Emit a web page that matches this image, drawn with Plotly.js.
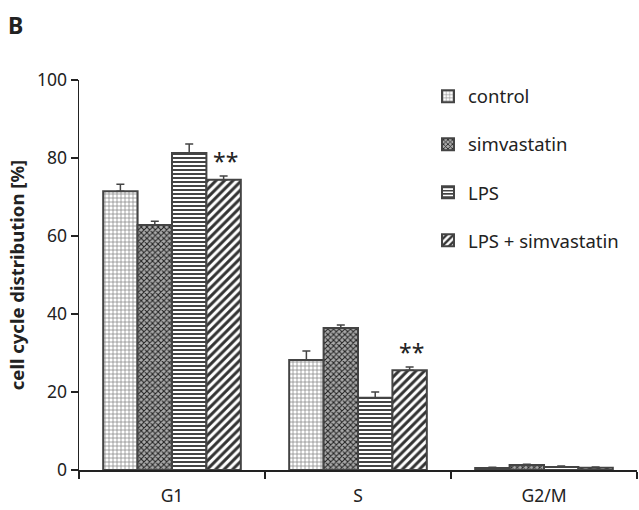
<!DOCTYPE html>
<html>
<head>
<meta charset="utf-8">
<script src="https://cdn.plot.ly/plotly-3.0.1.min.js"></script>
<style>html,body{margin:0;padding:0;background:#fff;}#chart{width:639px;height:510px;}</style>
</head>
<body>
<div id="chart"></div>
<script>
var categories = ['G1', 'S', 'G2/M'];
var seriesNames = ['control', 'simvastatin', 'LPS', 'LPS + simvastatin'];
var controlVals = [71.5, 28.2, 0.5];
var controlErr = [1.8, 2.3, 0.2];
var simvastatinVals = [62.8, 36.4, 1.3];
var simvastatinErr = [1.0, 0.8, 0.2];
var lpsVals = [81.3, 18.5, 0.8];
var lpsErr = [2.3, 1.5, 0.2];
var lpsSimVals = [74.4, 25.6, 0.6];
var lpsSimErr = [1.0, 0.8, 0.2];
var significance = ['**', '**', ''];
var yTicks = [0, 20, 40, 60, 80, 100];

var values = [controlVals, simvastatinVals, lpsVals, lpsSimVals];
var errors = [controlErr, simvastatinErr, lpsErr, lpsSimErr];
var patterns = [
  {shape: '+', fgcolor: '#888', bgcolor: '#fff', size: 4, solidity: 0.35},
  {shape: 'x', fgcolor: '#222', bgcolor: '#aaa', size: 4, solidity: 0.45},
  {shape: '-', fgcolor: '#444', bgcolor: '#fff', size: 4, solidity: 0.5},
  {shape: '/', fgcolor: '#333', bgcolor: '#fff', size: 6, solidity: 0.5}
];

var FONT = '"Noto Sans", "Open Sans", sans-serif';
var traces = seriesNames.map(function (name, i) {
  return {
    type: 'bar',
    name: name,
    x: categories,
    y: values[i],
    legendgroup: 'g' + i,
    marker: {color: '#fff', line: {color: '#444', width: 2}, pattern: patterns[i]},
    error_y: {type: 'data', array: errors[i], arrayminus: errors[i].map(function(){return 0;}), symmetric: false,
              color: '#444', thickness: 1.5, width: 4}
  };
});

var bargap = 0.26;
var nSeries = seriesNames.length;
var barW = (1 - bargap) / nSeries;
var lastOffset = -(1 - bargap) / 2 + barW * (nSeries - 0.5);
var annotations = [];
categories.forEach(function (c, j) {
  if (significance[j]) {
    annotations.push({
      x: j + lastOffset, xref: 'x', y: lpsSimVals[j] + lpsSimErr[j], yref: 'y',
      text: significance[j], showarrow: false, yanchor: 'bottom', yshift: -3, xshift: 2,
      font: {family: FONT, size: 23, color: '#222'}
    });
  }
});
annotations.push({
  x: 0, xref: 'paper', xanchor: 'left', xshift: -73, y: 1, yref: 'paper', yanchor: 'bottom', yshift: 37,
  text: '<b>B</b>', showarrow: false, font: {family: FONT, size: 23, color: '#222'}
});

var layout = {
  width: 639, height: 510,
  margin: {l: 79, r: 2, t: 80, b: 40},
  paper_bgcolor: '#fff', plot_bgcolor: '#fff',
  font: {family: FONT, size: 17, color: '#222'},
  barmode: 'group', bargap: bargap, bargroupgap: 0,
  showlegend: true,
  legend: {x: 0.6254, xanchor: 'left', y: 1.006, yanchor: 'top', traceorder: 'grouped', tracegroupgap: 21,
           font: {family: FONT, size: 18.5, color: '#222'}, bgcolor: 'rgba(0,0,0,0)', itemwidth: 30},
  xaxis: {type: 'category', showline: true, linecolor: '#222', linewidth: 1.5, ticks: 'outside',
          tickson: 'boundaries', ticklen: 7, tickcolor: '#222', tickwidth: 1.5, showgrid: false, zeroline: false,
          ticklabelstandoff: 9,
          tickfont: {family: FONT, size: 17.5, color: '#222'}},
  yaxis: {range: [0, 100], tickvals: yTicks, ticks: 'outside', ticklen: 7, tickcolor: '#222', tickwidth: 1.5,
          showline: true, linecolor: '#222', linewidth: 1.5, showgrid: false, zeroline: false,
          tickfont: {family: FONT, size: 17.5, color: '#222'},
          title: {text: '<b>cell cycle distribution [%]</b>', font: {family: FONT, size: 18.5, color: '#222'}, standoff: 7}},
  annotations: annotations
};

Plotly.newPlot('chart', traces, layout, {displayModeBar: false, staticPlot: true});
</script>
</body>
</html>
